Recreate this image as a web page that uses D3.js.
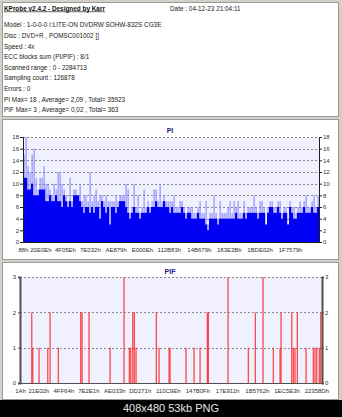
<!DOCTYPE html>
<html>
<head>
<meta charset="utf-8">
<script src="https://cdn.jsdelivr.net/npm/d3@7"></script>
<style>
  html, body { margin: 0; padding: 0; background: #d4d0c8; }
  svg { display: block; }
  text { font-family: "Liberation Sans", Arial, sans-serif; }
</style>
</head>
<body>
<svg id="chart" width="342" height="417"></svg>
<script>
// ---- report header ----
const headerTitle = "KProbe v2.4.2 - Designed by Karr";
const headerDate = "Date : 04-12-23 21:04:11";
const headerLines = [
  "Model : 1-0-0-0 I:LITE-ON DVDRW SOHW-832S  CG3E",
  "Disc : DVD+R , POMSC001002 []",
  "Speed : 4x",
  "ECC blocks sum (PI/PIF) : 8/1",
  "Scanned range : 0 - 2284713",
  "Sampling count : 126878",
  "Errors : 0",
  "PI Max= 18 , Average= 2,09 , Total= 35923",
  "PIF Max= 3 , Average= 0,02 , Total= 363"
];
const scanEnd = 2284713;

// ---- PI: per-column solid level and peak level (148 columns over the scan) ----
const piBody = [
  11,11,9,9,10,8,8,8,9,9,
  9,7,7,8,7,7,8,7,7,6,
  8,7,6,7,6,8,8,8,7,6,
  5,6,6,5,6,5,6,6,4,7,
  6,5,6,3,6,6,5,6,7,7,
  7,6,5,4,5,6,5,5,4,5,
  5,5,6,5,6,6,7,6,6,6,
  7,6,6,5,6,5,5,5,5,6,
  5,4,5,5,4,4,4,5,4,4,
  4,3,2,4,4,4,4,3,4,4,
  4,4,4,4,4,4,5,4,4,4,
  5,4,5,5,5,5,5,4,5,5,
  5,3,5,6,6,5,5,6,5,4,
  5,5,3,6,5,4,4,5,5,5,
  6,5,5,5,6,5,5,6
];
const piPeak = [
  15,18,13,12,15,16,11,9,11,11,
  13,10,10,9,8,10,9,12,12,10,
  9,8,7,11,7,9,9,8,10,7,
  8,8,7,12,7,8,9,7,8,8,
  7,8,7,7,7,7,8,7,8,8,
  8,10,9,5,6,10,6,8,5,6,
  9,6,7,6,7,9,9,7,10,7,
  8,7,7,7,7,8,6,6,7,7,
  6,5,6,6,6,5,5,6,7,5,
  5,7,3,5,5,8,5,4,7,5,
  5,5,6,7,5,7,6,7,5,5,
  7,5,6,6,6,8,6,5,7,7,
  6,3,6,7,7,6,6,7,7,5,
  6,6,3,7,6,6,5,6,7,6,
  7,8,6,6,7,8,6,8
];
const piYTicks = [0,2,4,6,8,10,12,14,16,18];
const piXTicks = ["88","20E0E","4F05E","7E032","AE879","E000E","112B83","14B679","183E3B","1BDE02","1F7579"];

// ---- PIF: sector position and count of each nonzero sample ----
const pifPos = [
  88500,96100,143700,209600,227000,289800,459200,469000,522000,680900,
  786800,826900,837500,852600,864700,877600,1031200,1051600,1127200,1134800,
  1255800,1316400,1361800,1417000,1424600,1573600,1727100,1780100,1838400,1916300,
  1967000,1974500,2055500,2067600,2080500,2097800,2163700,2218900,2231700,2244600,
  2264300,2274900
];
const pifVal = [
  2,1,1,1,2,1,2,2,2,1,
  3,1,1,2,2,1,2,1,1,1,
  1,1,1,2,2,3,1,2,3,1,
  1,2,2,1,1,2,1,1,1,1,
  1,2
];
const pifYTicks = [0,1,2,3];
const pifXTicks = ["1A","21E02","4FF64","7E2E1","AE033","DD271","110C9E","147B0F","17E911","1B5762","1EC5E3","22358D"];

const footerText = "408x480 53kb PNG";

// ---- drawing ----
const svg = d3.select("#chart");
const hexLabel = v => v.toString(16).toUpperCase() + "h";

function panel(y, h) {
  svg.append("rect").attr("x", 2.5).attr("y", y + 0.5).attr("width", 336).attr("height", h)
    .attr("fill", "#ffffff").attr("stroke", "#9a9a9a");
}

function styleTicks(g) {
  g.selectAll("text").attr("font-size", 6).attr("fill", "#303030")
    .attr("font-family", "Liberation Sans, Arial, sans-serif");
}

// header panel
panel(2, 114);
svg.append("text").attr("x", 4).attr("y", 10.5).attr("font-size", 6.4).attr("font-weight", "bold")
  .attr("text-decoration", "underline").attr("fill", "#101010").text(headerTitle);
svg.append("text").attr("x", 170).attr("y", 10.5).attr("font-size", 6.4).attr("fill", "#202020").text(headerDate);
svg.selectAll("text.hl").data(headerLines).join("text").attr("class", "hl")
  .attr("x", 4).attr("y", (d, i) => 27.3 + i * 10.6)
  .attr("font-size", 6.4).attr("fill", "#202020").text(d => d);

// ---- PI chart ----
panel(119, 140);
const piL = 23, piR = 319, piT = 137, piB = 242;
const xPI = d3.scaleLinear().domain([0, scanEnd]).range([piL, piR]);
const yPI = d3.scaleLinear().domain([0, 18]).range([piB, piT]);
svg.append("rect").attr("x", piL).attr("y", piT).attr("width", piR - piL).attr("height", piB - piT).attr("fill", "#f0f0fe");

svg.append("g").selectAll("line").data(piYTicks.filter(d => d > 0)).join("line")
  .attr("x1", piL).attr("x2", piR).attr("y1", d => Math.round(yPI(d)) + 0.5).attr("y2", d => Math.round(yPI(d)) + 0.5)
  .attr("stroke", "#8a8a8a").attr("stroke-dasharray", "2,2");

const colSpan = scanEnd / piBody.length;
// thin spikes: a single pixel wide inside each column
svg.append("g").selectAll("rect").data(piPeak).join("rect")
  .attr("x", (d, i) => xPI((i + 0.3) * colSpan)).attr("width", 1)
  .attr("y", d => yPI(d)).attr("height", d => piB - yPI(d)).attr("fill", "#8080ff");
svg.append("g").selectAll("rect").data(piBody).join("rect")
  .attr("x", (d, i) => xPI(i * colSpan)).attr("width", (d, i) => xPI((i + 1) * colSpan) - xPI(i * colSpan) + 0.2)
  .attr("y", d => yPI(d)).attr("height", d => piB - yPI(d)).attr("fill", "#0000f4");

const piLeft = svg.append("g").attr("transform", `translate(${piL},0)`)
  .call(d3.axisLeft(yPI).tickValues(piYTicks).tickSize(3).tickPadding(1));
const piRight = svg.append("g").attr("transform", `translate(${piR},0)`)
  .call(d3.axisRight(yPI).tickValues(piYTicks).tickSize(3).tickPadding(1));
const piBottom = svg.append("g").attr("transform", `translate(0,${piB})`)
  .call(d3.axisBottom(xPI).tickValues(piXTicks.map(h => parseInt(h, 16)))
    .tickFormat(hexLabel).tickSize(0).tickPadding(6));
[piLeft, piRight, piBottom].forEach(g => {
  g.selectAll("path.domain").attr("stroke", "#202020");
  g.selectAll("line").attr("stroke", "#202020");
  styleTicks(g);
});
svg.append("text").attr("x", 170).attr("y", 132.5).attr("text-anchor", "middle").attr("font-size", 7)
  .attr("font-weight", "bold").attr("fill", "#1a1a7a").text("PI");

// ---- PIF chart ----
panel(262, 137);
const pfL = 20, pfR = 322, pfT = 277, pfB = 383;
const xPF = d3.scaleLinear().domain([0, scanEnd]).range([pfL, pfR]);
const yPF = d3.scaleLinear().domain([0, 3]).range([pfB, pfT]);
svg.append("rect").attr("x", pfL).attr("y", pfT).attr("width", pfR - pfL).attr("height", pfB - pfT).attr("fill", "#f0f0fe");
svg.append("g").selectAll("line").data(pifYTicks.filter(d => d > 0)).join("line")
  .attr("x1", pfL).attr("x2", pfR).attr("y1", d => Math.round(yPF(d)) + 0.5).attr("y2", d => Math.round(yPF(d)) + 0.5)
  .attr("stroke", "#8a8a8a").attr("stroke-dasharray", "2,2");

svg.append("g").selectAll("rect").data(pifPos).join("rect")
  .attr("x", d => xPF(d) - 0.6).attr("width", 1.3)
  .attr("y", (d, i) => yPF(pifVal[i])).attr("height", (d, i) => pfB - yPF(pifVal[i]))
  .attr("fill", "#ff2020").attr("opacity", 0.8);

const pfLeft = svg.append("g").attr("transform", `translate(${pfL},0)`)
  .call(d3.axisLeft(yPF).tickValues(pifYTicks).tickFormat(d3.format("d")).tickSize(2).tickPadding(2));
const pfRight = svg.append("g").attr("transform", `translate(${pfR},0)`)
  .call(d3.axisRight(yPF).tickValues(pifYTicks).tickFormat(d3.format("d")).tickSize(2).tickPadding(1));
const pfBottom = svg.append("g").attr("transform", `translate(0,${pfB})`)
  .call(d3.axisBottom(xPF).tickValues(pifXTicks.map(h => parseInt(h, 16)))
    .tickFormat(hexLabel).tickSize(0).tickPadding(6));
[pfLeft, pfRight].forEach(g => {
  g.selectAll("path.domain").attr("stroke", "#505050").attr("stroke-width", 2);
  g.selectAll("line").attr("stroke", "#505050");
});
pfBottom.selectAll("path.domain").attr("stroke", "#505050");
[pfLeft, pfRight, pfBottom].forEach(styleTicks);
svg.append("text").attr("x", 170).attr("y", 273.5).attr("text-anchor", "middle").attr("font-size", 7)
  .attr("font-weight", "bold").attr("fill", "#1a1a7a").text("PIF");

// ---- image caption bar ----
svg.append("rect").attr("x", 0).attr("y", 400).attr("width", 342).attr("height", 17).attr("fill", "#000");
svg.append("text").attr("x", 171).attr("y", 412).attr("text-anchor", "middle").attr("font-size", 11)
  .attr("fill", "#e6e6e6").text(footerText);
</script>
</body>
</html>
